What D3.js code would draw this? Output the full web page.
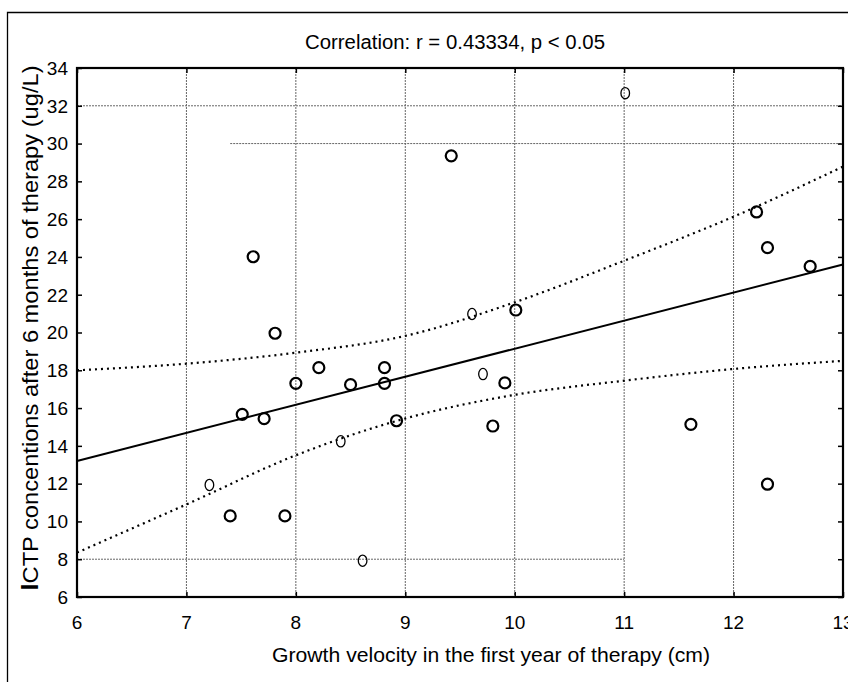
<!DOCTYPE html>
<html>
<head>
<meta charset="utf-8">
<script src="https://cdn.jsdelivr.net/npm/d3@7"></script>
<style>
  html, body { margin: 0; padding: 0; background: #fff; }
  text { font-family: "Liberation Sans", Arial, sans-serif; fill: #000; }
</style>
</head>
<body>
<div id="chart"></div>
<script>
// growth velocity (cm) vs ICTP after 6 months (ug/L)
var growthVelocity = [11.01, 9.42, 12.21, 12.31, 12.70, 7.61, 7.81, 9.61, 10.01, 8.21,
                      8.81, 8.00, 8.50, 8.81, 9.71, 9.91, 7.51, 7.71, 8.92, 9.80,
                      11.61, 8.41, 7.21, 7.40, 7.90, 12.31, 8.61];
var ictp = [32.67, 29.35, 26.38, 24.49, 23.50, 24.01, 19.96, 20.98, 21.19, 18.14,
            18.14, 17.31, 17.24, 17.31, 17.80, 17.33, 15.67, 15.44, 15.33, 15.05,
            15.14, 14.24, 11.93, 10.29, 10.29, 11.97, 7.92];
// some markers in the scan look like a thin letter "O"
var markerKind = ["thin", "bold", "bold", "bold", "bold", "bold", "bold", "thin", "bold", "bold",
                  "bold", "bold", "bold", "bold", "thin", "bold", "bold", "bold", "bold", "bold",
                  "bold", "thin", "thin", "bold", "bold", "bold", "thin"];

var fitLine = [[6, 13.2], [13, 23.6]];
var bandX = [6, 7, 8, 9, 10, 11, 12, 13];
var upperBand = [18.0, 18.35, 18.93, 19.82, 21.6, 23.8, 26.13, 28.78];
var lowerBand = [8.35, 10.9, 13.5, 15.45, 16.7, 17.45, 18.07, 18.5];

// leftover partial grid lines in the original: [y, xFrom, xTo]
var hGrid = [[32, 6, 13], [30, 7.4, 13], [8, 6, 11]];

var xTicks = [6, 7, 8, 9, 10, 11, 12, 13];
var yTicks = [6, 8, 10, 12, 14, 16, 18, 20, 22, 24, 26, 28, 30, 32, 34];

var W = 848, H = 682;
var svg = d3.select("#chart").append("svg").attr("width", W).attr("height", H);

var x = d3.scaleLinear().domain([6, 13]).range([77, 843]);
var y = d3.scaleLinear().domain([6, 34]).range([597, 68]);

// outer frame (right and bottom fall off the picture)
svg.append("path")
  .attr("d", "M7.5," + H + "V12.5H" + W)
  .attr("fill", "none").attr("stroke", "#000").attr("stroke-width", 1.3);

svg.append("text")
  .attr("x", 455).attr("y", 49)
  .attr("text-anchor", "middle")
  .attr("textLength", 300).attr("lengthAdjust", "spacingAndGlyphs")
  .style("font-size", "19.5px")
  .text("Correlation: r = 0.43334, p < 0.05");

// vertical grid
svg.append("g").selectAll("line")
  .data(xTicks.slice(1, -1))
  .enter().append("line")
  .attr("x1", (d) => x(d)).attr("x2", (d) => x(d))
  .attr("y1", y(34)).attr("y2", y(6))
  .attr("stroke", "#666").attr("stroke-width", 1).attr("stroke-dasharray", "2,1");

svg.append("g").selectAll("line")
  .data(hGrid)
  .enter().append("line")
  .attr("x1", (d) => x(d[1])).attr("x2", (d) => x(d[2]))
  .attr("y1", (d) => y(d[0])).attr("y2", (d) => y(d[0]))
  .attr("stroke", "#666").attr("stroke-width", 1).attr("stroke-dasharray", "2,1");

// axes: ticks pointing inward on every side
var axL = d3.axisRight(y).tickValues(yTicks).tickSize(5).tickFormat("");
var axR = d3.axisLeft(y).tickValues(yTicks).tickSize(5).tickFormat("");
var axB = d3.axisTop(x).tickValues(xTicks).tickSize(5).tickFormat("");
var axT = d3.axisBottom(x).tickValues(xTicks).tickSize(5).tickFormat("");
[[axL, "translate(" + x(6) + ",0)"], [axR, "translate(" + x(13) + ",0)"],
 [axB, "translate(0," + y(6) + ")"], [axT, "translate(0," + y(34) + ")"]].forEach(function (a) {
  var g = svg.append("g").attr("transform", a[1]).call(a[0]);
  g.select(".domain").remove();
  g.selectAll("line").attr("stroke", "#000").attr("stroke-width", 1.5);
});

svg.append("rect")
  .attr("x", x(6)).attr("y", y(34))
  .attr("width", x(13) - x(6)).attr("height", y(6) - y(34))
  .attr("fill", "none").attr("stroke", "#000").attr("stroke-width", 2.2);

// tick labels
svg.append("g").selectAll("text")
  .data(yTicks)
  .enter().append("text")
  .attr("x", x(6) - 9).attr("y", (d) => y(d))
  .attr("dy", "0.36em")
  .attr("text-anchor", "end")
  .style("font-size", "19px")
  .text((d) => d);

svg.append("g").selectAll("text")
  .data(xTicks)
  .enter().append("text")
  .attr("x", (d) => x(d)).attr("y", y(6) + 25)
  .attr("dy", "0.36em")
  .attr("text-anchor", "middle")
  .style("font-size", "19px")
  .text((d) => d);

// regression line and confidence band
var line = d3.line().x((d) => x(d[0])).y((d) => y(d[1])).curve(d3.curveMonotoneX);

svg.append("path")
  .attr("d", line(fitLine))
  .attr("fill", "none").attr("stroke", "#000").attr("stroke-width", 2);

[upperBand, lowerBand].forEach(function (band) {
  svg.append("path")
    .attr("d", line(bandX.map((v, i) => [v, band[i]])))
    .attr("fill", "none").attr("stroke", "#000")
    .attr("stroke-width", 2.2).attr("stroke-dasharray", "2,4");
});

// points
var pts = growthVelocity.map((v, i) => ({ gx: v, gy: ictp[i], kind: markerKind[i] }));

svg.append("g").selectAll("ellipse")
  .data(pts)
  .enter().append("ellipse")
  .attr("cx", (d) => x(d.gx)).attr("cy", (d) => y(d.gy))
  .attr("rx", (d) => d.kind == "thin" ? 4.3 : 5.5)
  .attr("ry", (d) => d.kind == "thin" ? 5.6 : 5.5)
  .attr("fill", "none").attr("stroke", "#000")
  .attr("stroke-width", (d) => d.kind == "thin" ? 1.3 : 2.2);

// axis titles
svg.append("text")
  .attr("x", 491).attr("y", 662)
  .attr("text-anchor", "middle")
  .attr("textLength", 438).attr("lengthAdjust", "spacingAndGlyphs")
  .style("font-size", "20.5px")
  .text("Growth velocity in the first year of therapy (cm)");

var yt = svg.append("text")
  .attr("transform", "translate(38,328) rotate(-90)")
  .attr("text-anchor", "middle")
  .attr("textLength", 525).attr("lengthAdjust", "spacingAndGlyphs")
  .style("font-size", "22.5px");
yt.append("tspan").style("font-weight", "bold").style("font-size", "24px").text("I");
yt.append("tspan").text("CTP concentions after 6 months of therapy (ug/L)");
</script>
</body>
</html>
